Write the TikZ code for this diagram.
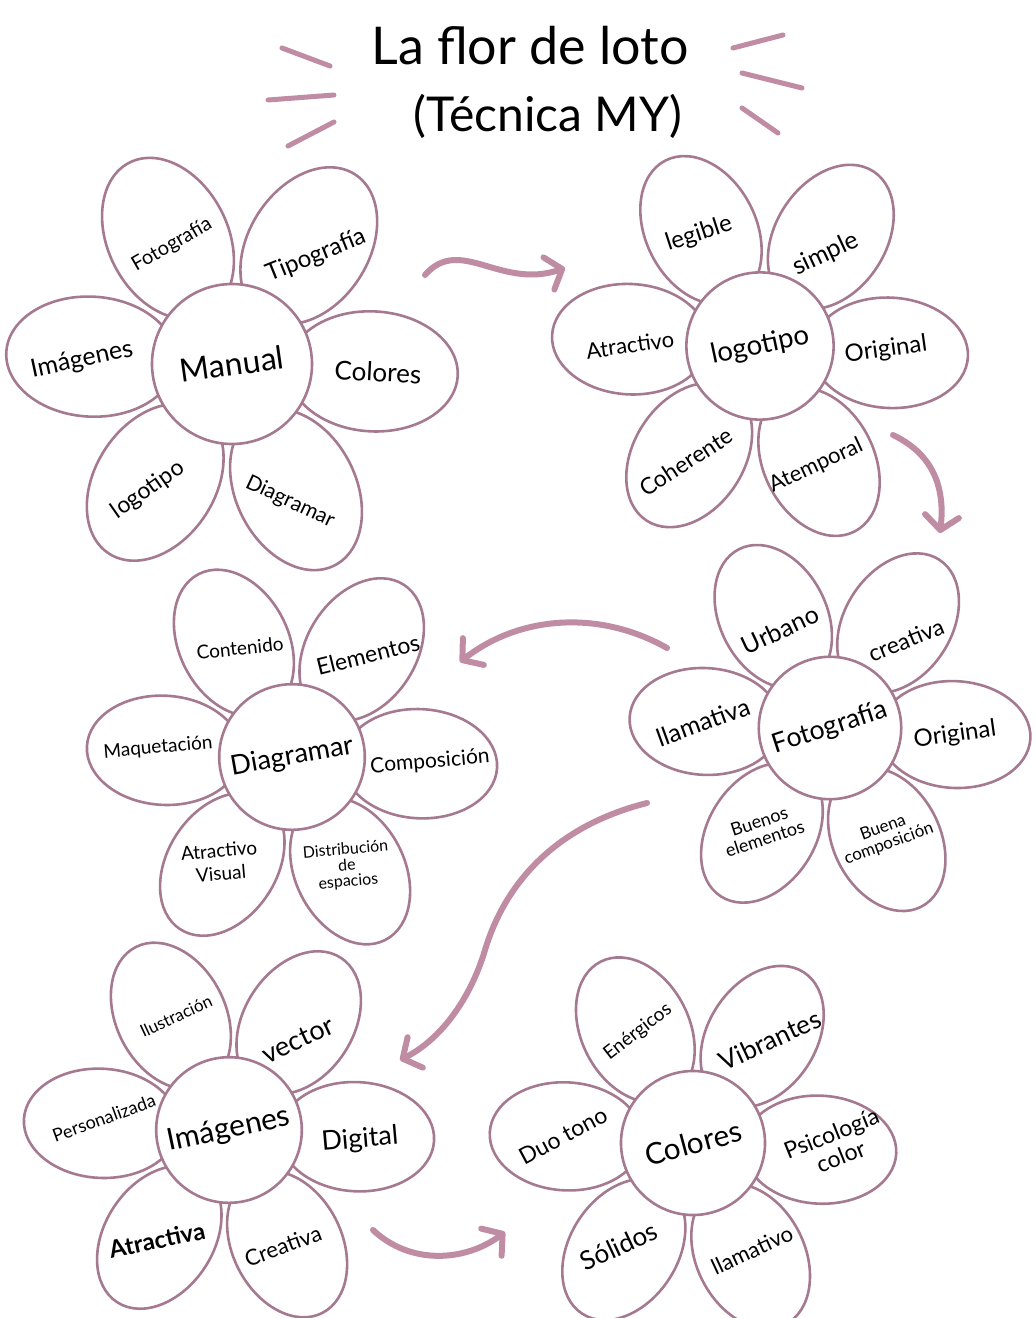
\documentclass[tikz,border=0pt]{standalone}
\usepackage{fontspec}
\setmainfont{Lato}
\usepackage{tikz}
\usetikzlibrary{arrows.meta,shapes.geometric,calc}
\definecolor{lotus}{HTML}{A57A90}
\definecolor{lotuspink}{HTML}{BF8CA3}
\tikzset{
  petal/.style={ellipse,draw=lotus,line width=2.6pt,fill=white,minimum width=170pt,minimum height=120pt,inner sep=0pt},
  heart/.style={circle,draw=lotus,line width=2.6pt,fill=white,minimum size=160pt,inner sep=0pt,align=center},
  lbl/.style={font=\fontsize{#1pt}{#1pt}\selectfont,align=center,inner sep=0pt},
  arr/.style={draw=lotuspink,line width=6pt,line cap=round,-{Straight Barb[length=14pt,width=34pt,round]}},
  flick/.style={draw=lotuspink,line width=5pt,line cap=round},
}

\begin{document}
\begin{tikzpicture}[x=1pt,y=1pt]
\fill[white] (0,0) rectangle (1036,-1318);
\useasboundingbox (0,0) rectangle (1036,-1318);

% title
\node[lbl=52] (title1) at (530,-46) {La flor de loto};
\node[lbl=48] (title2) at (548,-116) {(Técnica MY)};
\draw[flick] (282,-48) -- (330,-66);
\draw[flick] (268,-100) -- (334,-95);
\draw[flick] (288,-146) -- (334,-122);
\draw[flick] (733,-48) -- (783,-35);
\draw[flick] (742,-73) -- (802,-88);
\draw[flick] (742,-108) -- (778,-133);

% flower: Manual
\coordinate (man-c) at (232,-364);
\foreach \a [count=\i] in {-3,57,117,177,237,297}
  \node[petal,rotate=\a] (man-p\i) at ($(man-c)+(\a:141)$) {};
\node[heart,font=\fontsize{32pt}{32pt}\selectfont,rotate=8] (man) at (man-c) {Manual};
\node[lbl=20,rotate=30] (man-l1) at (172,-245) {Fotografía};
\node[lbl=24,rotate=22] (man-l2) at (316,-256) {Tipografía};
\node[lbl=26,rotate=-3] (man-l3) at (378,-372) {Colores};
\node[lbl=25,rotate=12] (man-l4) at (82,-360) {Imágenes};
\node[lbl=23,rotate=35] (man-l5) at (148,-490) {logotipo};
\node[lbl=21,rotate=-25] (man-l6) at (290,-502) {Diagramar};

% flower: logotipo
\coordinate (logo-c) at (760,-346);
\foreach \a [count=\i] in {-3,57,117,177,237,297}
  \node[petal,rotate=\a,scale=0.92] (logo-p\i) at ($(logo-c)+(\a:130)$) {};
\node[heart,scale=0.92,font=\fontsize{30pt}{30pt}\selectfont,rotate=12] (logo) at (logo-c) {logotipo};
\node[lbl=24,rotate=18] (logo-l1) at (699,-234) {legible};
\node[lbl=25,rotate=25] (logo-l2) at (826,-254) {simple};
\node[lbl=24,rotate=8] (logo-l3) at (886,-350) {Original};
\node[lbl=22,rotate=8] (logo-l4) at (630,-345) {Atractivo};
\node[lbl=23,rotate=33] (logo-l5) at (686,-462) {Coherente};
\node[lbl=22,rotate=25] (logo-l6) at (816,-466) {Atemporal};

% flower: Diagramar
\coordinate (diag-c) at (292,-757);
\foreach \a [count=\i] in {-3,57,117,177,237,297}
  \node[petal,rotate=\a,scale=0.91] (diag-p\i) at ($(diag-c)+(\a:128)$) {};
\node[heart,scale=0.91,font=\fontsize{30pt}{30pt}\selectfont,rotate=10] (diag) at (diag-c) {Diagramar};
\node[lbl=19,rotate=6] (diag-l1) at (240,-648) {Contenido};
\node[lbl=23,rotate=14] (diag-l2) at (368,-655) {Elementos};
\node[lbl=21,rotate=5] (diag-l3) at (430,-762) {Composición};
\node[lbl=19,rotate=5] (diag-l4) at (158,-748) {Maquetación};
\node[lbl=19,rotate=5] (diag-l5) at (220,-862) {Atractivo\\[4pt]Visual};
\node[lbl=16,rotate=5] (diag-l6) at (347,-866) {Distribución\\de\\espacios};

% flower: Fotografia
\coordinate (foto-c) at (830,-728);
\foreach \a [count=\i] in {-3,57,117,177,237,297}
  \node[petal,rotate=\a,scale=0.89] (foto-p\i) at ($(foto-c)+(\a:125)$) {};
\node[heart,scale=0.89,font=\fontsize{30pt}{30pt}\selectfont,rotate=18] (foto) at (foto-c) {Fotografía};
\node[lbl=25,rotate=25] (foto-l1) at (780,-630) {Urbano};
\node[lbl=23,rotate=22] (foto-l2) at (906,-640) {creativa};
\node[lbl=24,rotate=8] (foto-l3) at (955,-735) {Original};
\node[lbl=25,rotate=20] (foto-l4) at (703,-722) {llamativa};
\node[lbl=18,rotate=18] (foto-l5) at (762,-830) {Buenos\\elementos};
\node[lbl=17,rotate=20] (foto-l6) at (886,-836) {Buena\\composición};

% flower: Imagenes
\coordinate (img-c) at (229,-1130);
\foreach \a [count=\i] in {-3,57,117,177,237,297}
  \node[petal,rotate=\a,scale=0.91] (img-p\i) at ($(img-c)+(\a:128)$) {};
\node[heart,scale=0.91,font=\fontsize{33pt}{33pt}\selectfont,rotate=12] (img) at (img-c) {Imágenes};
\node[lbl=17,rotate=25] (img-l1) at (176,-1016) {Ilustración};
\node[lbl=27,rotate=25] (img-l2) at (298,-1040) {vector};
\node[lbl=27,rotate=5] (img-l3) at (360,-1140) {Digital};
\node[lbl=18,rotate=20] (img-l4) at (104,-1118) {Personalizada};
\node[lbl=24,rotate=12,font=\fontsize{24pt}{24pt}\bfseries] (img-l5) at (157,-1240) {Atractiva};
\node[lbl=22,rotate=20] (img-l6) at (283,-1246) {Creativa};

% flower: Colores
\coordinate (col-c) at (693,-1143);
\foreach \a [count=\i] in {-3,57,117,177,237,297}
  \node[petal,rotate=\a,scale=0.9] (col-p\i) at ($(col-c)+(\a:127)$) {};
\node[heart,scale=0.9,font=\fontsize{33pt}{33pt}\selectfont,rotate=15] (col) at (col-c) {Colores};
\node[lbl=19,rotate=38] (col-l1) at (638,-1032) {Enérgicos};
\node[lbl=26,rotate=25] (col-l2) at (770,-1040) {Vibrantes};
\node[lbl=23,rotate=22] (col-l3) at (836,-1145) {Psicología\\[2pt]color};
\node[lbl=23,rotate=28] (col-l4) at (563,-1136) {Duo tono};
\node[lbl=26,rotate=25] (col-l5) at (619,-1246) {Sólidos};
\node[lbl=22,rotate=25] (col-l6) at (752,-1250) {llamativo};

% arrows between flowers
\coordinate (a1s) at (425,-275);
\coordinate (a1e) at (565,-268);
\coordinate (a2s) at (893,-435);
\coordinate (a2e) at (940,-533);
\coordinate (a3s) at (667,-648);
\coordinate (a3e) at (460,-662);
\coordinate (a4s) at (647,-803);
\coordinate (a4m) at (485,-950);
\coordinate (a4e) at (400,-1060);
\coordinate (a5s) at (373,-1230);
\coordinate (a5e) at (505,-1232);
\draw[arr] (a1s) .. controls (460,-235) and (500,-290) .. (a1e);
\draw[arr] (a2s) .. controls (935,-455) and (945,-490) .. (a2e);
\draw[arr] (a3s) .. controls (600,-610) and (520,-615) .. (a3e);
\draw[arr] (a4s) .. controls (540,-830) and (500,-900) .. (a4m)
  .. controls (470,-1000) and (440,-1040) .. (a4e);
\draw[arr] (a5s) .. controls (410,-1265) and (465,-1262) .. (a5e);

\end{tikzpicture}
\end{document}
